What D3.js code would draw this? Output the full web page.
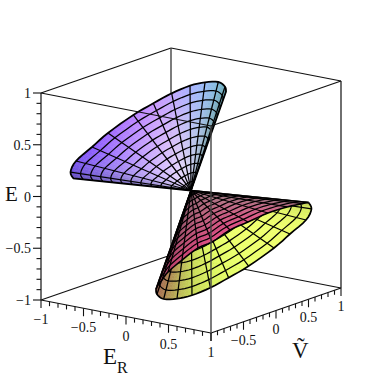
<!DOCTYPE html>
<html><head><meta charset="utf-8">
<script src="https://cdn.jsdelivr.net/npm/d3@7"></script>
<style>html,body{margin:0;padding:0;background:#fff}svg{display:block}text{font-family:"Liberation Serif",serif;fill:#111}</style>
</head><body><svg id="c" width="382" height="382"></svg>
<script>
// rim of the upper nappe (E_R, V, E); lower nappe is its mirror through the origin
const frontER=[-.877,-.860,-.833,-.747,-.706,-.592,-.515,-.414,-.306,-.177,-.016,.137,.186];
const frontV =[-.661,-.729,-.680,-.546,-.354,-.113,.094,.244,.385,.447,.441,.344,.295];
const frontE =[.12,.2,.3,.42,.52,.66,.74,.82,.88,.92,.95,.95,.92];
const backER =[-.877,-.812,-.677,-.484,-.327,-.162,-.040,.092,.177,.202,.186,.174,.186];
const backV  =[-.661,-.661,-.592,-.551,-.449,-.388,-.271,-.228,-.093,.089,.203,.280,.295];
const backE  =[.12,.14,.18,.26,.35,.44,.55,.62,.72,.8,.85,.88,.92];
const ringCount=12;
const purpleRim=["#5e4ea8","#6a4ed8","#7c56f0","#8a58ff","#9e68ff","#b880ff","#c896ff","#c0a4ff","#a8b0ff","#98bcf8","#80bcdc","#6aa8b8","#609aa8"];
const purpleCore=["#7c78a8","#9c94c0","#c4b8e8","#dccff8","#e2d4fc","#e6dcfa","#e4dcf6","#dcd8f0","#d0d0ea","#bcc4dc","#a0b0c0","#849aa0","#6c7c84"];
const yellowRim=["#b4bc50","#d4e85c","#e6f868","#eeff6c","#eeff6c","#eaff6c","#e4fc66","#d8f060","#c8d858","#bab458","#ac8450","#a46a50","#9c5e48"];
const pinkRim=["#807078","#a07080","#c06a88","#d85c8c","#e05088","#e04888","#e04884","#d84480","#d04478","#c04070","#b04068","#a84860","#a05058"];
const pinkCore=["#706a70","#807078","#907880","#a08088","#a87888","#a87080","#a06c7c","#9c6878","#946474","#8c6070","#846068","#785860","#705058"];
const ticks=d3.range(-10,11).map(d=>d/10);
const majorTicks=[-1,-.5,0,.5,1];
const tickLabels=["−1","−0.5","0","0.5","1"];

const erX=d3.scaleLinear([-1,1],[-85,85]), erY=d3.scaleLinear([-1,1],[-16.5,16.5]);
const vX=d3.scaleLinear([-1,1],[-65,65]), vY=d3.scaleLinear([-1,1],[22.5,-22.5]);
const eY=d3.scaleLinear([-1,1],[103.5,-103.5]);
const cx=191,cy=190.5;
const P=(r,v,e)=>[cx+erX(r)+vX(v), cy+erY(r)+vY(v)+eY(e)];
const svg=d3.select("#c");
const pathLine=d3.line();
function seg(a,b,w=1.2,col="#111"){svg.append("path").attr("d",pathLine([P(...a),P(...b)])).attr("stroke",col).attr("stroke-width",w).attr("fill","none");}

function sheet(er,v,e,sign,rimCols,coreCols){
  const n=er.length, sub=4, rsub=3;
  const ramp=c=>d3.scaleLinear().domain(d3.range(c.length)).range(c).interpolate(d3.interpolateRgb);
  const rr=ramp(rimCols), rc=ramp(coreCols);
  const cr=(a,i,s)=>{const g=k=>a[Math.max(0,Math.min(n-1,k))];const p0=g(i-1),p1=g(i),p2=g(i+1),p3=g(i+2);
    return .5*(2*p1+(p2-p0)*s+(2*p0-5*p1+4*p2-p3)*s*s+(3*p1-p0-3*p2+p3)*s*s*s);};
  const rim=[];
  for(let q=0;q<=(n-1)*sub;q++){const i=Math.min(n-2,Math.floor(q/sub)),s=q/sub-i;
    rim.push([cr(er,i,s)*sign,cr(v,i,s)*sign,cr(e,i,s)*sign]);}
  const pt=(q,t)=>P(rim[q][0]*t,rim[q][1]*t,rim[q][2]*t);
  const g=svg.append("g");
  const total=ringCount*rsub;
  for(let q=0;q<rim.length-1;q++)for(let k=0;k<total;k++){
    const t0=k/total,t1=(k+1)/total,u=(q+.5)/sub,tm=(t0+t1)/2;
    const col=d3.interpolateRgb(rc(u),rr(u))(Math.pow(tm,1.4));
    g.append("path").attr("d",pathLine([pt(q,t0),pt(q+1,t0),pt(q+1,t1),pt(q,t1)])+"Z").attr("fill",col).attr("stroke",col).attr("stroke-width",.5);
  }
  for(let k=1;k<ringCount;k++){
    g.append("path").attr("d",pathLine(rim.map((_,q)=>pt(q,k/ringCount)))).attr("fill","none").attr("stroke","#000").attr("stroke-width",1.25);
  }
  for(let i=1;i<n-1;i++){
    g.append("path").attr("d",pathLine([pt(i*sub,0),pt(i*sub,1)])).attr("fill","none").attr("stroke","#000").attr("stroke-width",1.25);
  }
  return {g,rim,pt};
}
function outline(s,w){
  const o=[s.pt(0,0),...s.rim.map((_,q)=>s.pt(q,1)),s.pt(0,0)];
  s.g.append("path").attr("d",pathLine(o)).attr("fill","none").attr("stroke","#000").attr("stroke-width",w);
}

// back of the box
seg([-1,-1,1],[-1,1,1]); seg([-1,1,1],[1,1,1]);
seg([-1,-1,-1],[-1,1,-1]); seg([-1,1,-1],[1,1,-1]);
seg([-1,1,-1],[-1,1,1],1.4,"#444");
seg([-1,-1,-1],[-1,-1,1],1.4,"#333"); seg([1,1,-1],[1,1,1],1.4,"#333");

// surfaces
const yellow=sheet(frontER,frontV,frontE,-1,yellowRim,yellowRim);
outline(yellow,1.7);
const pink=sheet(backER,backV,backE,-1,pinkRim,pinkCore);
outline(pink,1.6);
const purple=sheet(frontER,frontV,frontE,1,purpleRim,purpleCore);
outline(purple,1.8);

// front of the box
seg([-1,-1,1],[1,-1,1]); seg([1,-1,1],[1,1,1]);
seg([-1,-1,-1],[1,-1,-1]); seg([1,-1,-1],[1,1,-1]);
seg([1,-1,-1],[1,-1,1],1.4,"#444");

// ticks
ticks.forEach(d=>{
  const maj=majorTicks.includes(d), L=maj?8:4.5;
  const a=P(-1,-1,d); svg.append("path").attr("d",pathLine([a,[a[0]-L,a[1]]])).attr("stroke","#111").attr("stroke-width",1.1);
  const b=P(d,-1,-1); svg.append("path").attr("d",pathLine([b,[b[0],b[1]+L]])).attr("stroke","#111").attr("stroke-width",1.1);
  const c=P(1,d,-1); svg.append("path").attr("d",pathLine([c,[c[0],c[1]+L]])).attr("stroke","#111").attr("stroke-width",1.1);
});
function label(x,y,t,size,anchor="middle"){return svg.append("text").attr("x",x).attr("y",y).attr("font-size",size).attr("text-anchor",anchor).text(t);}
majorTicks.forEach((d,i)=>{
  const a=P(-1,-1,d); label(a[0]-10,a[1]+5,tickLabels[i],14,"end");
  const b=P(d,-1,-1); label(b[0],b[1]+24,tickLabels[i],14);
  if(i>0){const c=P(1,d,-1); label(c[0],c[1]+23,tickLabels[i],14);}
});
label(5,200.5,"E",21,"start");
label(103,364,"E",23,"start");
label(117,373,"R",16,"start");
label(292,358,"Ṽ",23,"start");
</script></body></html>
